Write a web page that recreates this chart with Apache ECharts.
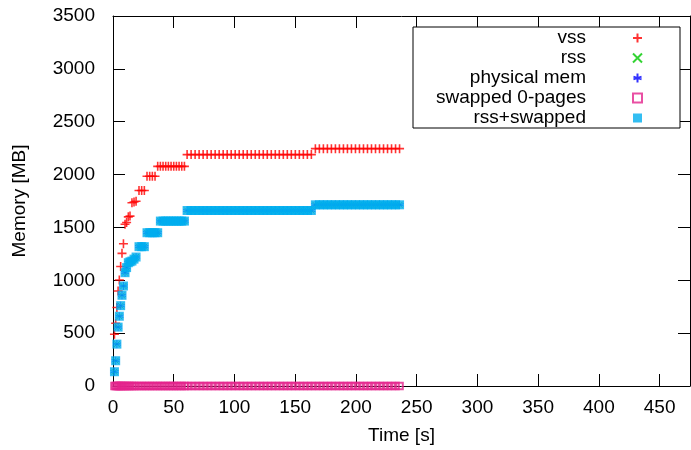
<!DOCTYPE html>
<html><head><meta charset="utf-8">
<script src="https://cdn.jsdelivr.net/npm/echarts@6/dist/echarts.min.js"></script>
<style>html,body{margin:0;padding:0;background:#fff}#c{width:691px;height:450px}</style>
</head><body><div id="c"></div><script>
// sample times [s]
const timeS = [
 1.2, 2.2, 3.2, 4.2, 5.2, 6.3, 7.4, 8.6, 9.9, 11.2,
 12.6, 14.0, 15.6, 17.3, 19.0, 21.4, 23.6, 25.8, 28.0, 30.2,
 32.4, 34.6, 36.8, 39.0, 41.2, 43.4, 45.6, 47.8, 50.0, 52.2,
 54.4, 56.6, 58.8, 61.0, 64.3, 67.6, 70.9, 74.2, 77.5, 80.8,
 84.1, 87.4, 90.7, 94.0, 97.3, 100.6, 103.9, 107.2, 110.5, 113.8,
 117.1, 120.4, 123.7, 127.0, 130.3, 133.6, 136.9, 140.2, 143.5, 146.8,
 150.1, 153.4, 156.7, 160.0, 163.3, 166.6, 169.9, 173.2, 176.5, 179.8,
 183.1, 186.4, 189.7, 193.0, 196.3, 199.6, 202.9, 206.2, 209.5, 212.8,
 216.1, 219.4, 222.7, 226.0, 229.3, 232.6, 235.9
];
// vss [MB]
const vssMB = [
 490, 594, 742, 899, 1003, 1130, 1255, 1346, 1530, 1547,
 1600, 1607, 1733, 1740, 1748, 1849, 1849, 1849, 1984, 1984,
 1984, 1984, 2078, 2078, 2078, 2078, 2078, 2078, 2078, 2078,
 2078, 2078, 2078, 2189, 2189, 2189, 2189, 2189, 2189, 2189,
 2189, 2189, 2189, 2189, 2189, 2189, 2189, 2189, 2189, 2189,
 2189, 2189, 2189, 2189, 2189, 2189, 2189, 2189, 2189, 2189,
 2189, 2189, 2189, 2189, 2189, 2245, 2245, 2245, 2245, 2245,
 2245, 2245, 2245, 2245, 2245, 2245, 2245, 2245, 2245, 2245,
 2245, 2245, 2245, 2245, 2245, 2245, 2245
];
// rss [MB]
const rssMB = [
 135, 239, 396, 557, 660, 760, 858, 946, 1072, 1120,
 1166, 1175, 1182, 1200, 1220, 1318, 1318, 1318, 1450, 1450,
 1450, 1450, 1450, 1560, 1560, 1560, 1560, 1560, 1560, 1560,
 1560, 1560, 1560, 1660, 1660, 1660, 1660, 1660, 1660, 1660,
 1660, 1660, 1660, 1660, 1660, 1660, 1660, 1660, 1660, 1660,
 1660, 1660, 1660, 1660, 1660, 1660, 1660, 1660, 1660, 1660,
 1660, 1660, 1660, 1660, 1660, 1714, 1714, 1714, 1714, 1714,
 1714, 1714, 1714, 1714, 1714, 1714, 1714, 1714, 1714, 1714,
 1714, 1714, 1714, 1714, 1714, 1714, 1714
];
// physical mem [MB]
const physMB = [
 135, 239, 396, 557, 660, 760, 858, 946, 1072, 1120,
 1166, 1175, 1182, 1200, 1220, 1318, 1318, 1318, 1450, 1450,
 1450, 1450, 1450, 1560, 1560, 1560, 1560, 1560, 1560, 1560,
 1560, 1560, 1560, 1660, 1660, 1660, 1660, 1660, 1660, 1660,
 1660, 1660, 1660, 1660, 1660, 1660, 1660, 1660, 1660, 1660,
 1660, 1660, 1660, 1660, 1660, 1660, 1660, 1660, 1660, 1660,
 1660, 1660, 1660, 1660, 1660, 1714, 1714, 1714, 1714, 1714,
 1714, 1714, 1714, 1714, 1714, 1714, 1714, 1714, 1714, 1714,
 1714, 1714, 1714, 1714, 1714, 1714, 1714
];
// swapped 0-pages [MB]
const swapped0MB = [
 0, 0, 0, 0, 0, 0, 0, 0, 0, 0,
 0, 0, 0, 0, 0, 0, 0, 0, 0, 0,
 0, 0, 0, 0, 0, 0, 0, 0, 0, 0,
 0, 0, 0, 0, 0, 0, 0, 0, 0, 0,
 0, 0, 0, 0, 0, 0, 0, 0, 0, 0,
 0, 0, 0, 0, 0, 0, 0, 0, 0, 0,
 0, 0, 0, 0, 0, 0, 0, 0, 0, 0,
 0, 0, 0, 0, 0, 0, 0, 0, 0, 0,
 0, 0, 0, 0, 0, 0, 0
];
const seriesNames = ['vss', 'rss', 'physical mem', 'swapped 0-pages', 'rss+swapped'];
const xTicks = [0, 50, 100, 150, 200, 250, 300, 350, 400, 450];
const yTicks = [0, 500, 1000, 1500, 2000, 2500, 3000, 3500];
const xMax = 475;

const FONT = 'Liberation Sans';
const pairs = (ys) => timeS.map((t, i) => [t, ys[i]]);
const rssSwappedMB = rssMB.map((v, i) => v + swapped0MB[i]);

const axisCommon = {
  type: 'value',
  axisLine: { show: true, onZero: false, lineStyle: { color: '#000', width: 1 } },
  axisTick: { show: true, inside: true, length: 12, lineStyle: { color: '#000', width: 1 } },
  splitLine: { show: false }
};
const labelStyle = { color: '#000', fontSize: 19, fontFamily: FONT };

const option = {
  animation: false,
  backgroundColor: '#fff',
  grid: { left: 113, right: 1, top: 16, bottom: 63 },
  xAxis: [
    Object.assign({}, axisCommon, {
      min: xTicks[0], max: xMax, interval: xTicks[1] - xTicks[0],
      position: 'bottom',
      axisLabel: Object.assign({ margin: 12, showMaxLabel: false,
        formatter: v => xTicks.includes(v) ? String(v) : '' }, labelStyle),
      name: 'Time [s]', nameLocation: 'middle', nameGap: 40,
      nameTextStyle: labelStyle
    }),
    Object.assign({}, axisCommon, {
      min: xTicks[0], max: xMax, interval: xTicks[1] - xTicks[0],
      position: 'top', axisLabel: { show: false }
    })
  ],
  yAxis: [
    Object.assign({}, axisCommon, {
      min: yTicks[0], max: yTicks[yTicks.length - 1], interval: yTicks[1] - yTicks[0],
      position: 'left',
      axisLabel: Object.assign({ margin: 18,
        formatter: v => yTicks.includes(v) ? String(v) : '' }, labelStyle),
      name: 'Memory [MB]', nameLocation: 'middle', nameGap: 84, nameRotate: 90,
      nameTextStyle: labelStyle
    }),
    Object.assign({}, axisCommon, {
      min: yTicks[0], max: yTicks[yTicks.length - 1], interval: yTicks[1] - yTicks[0],
      position: 'right', axisLabel: { show: false }
    })
  ],
  legend: {
    orient: 'vertical', right: 11, top: 27, align: 'right',
    itemWidth: 9, itemHeight: 9, itemGap: 0,
    padding: [1, 37, 0, 23],
    borderColor: '#000', borderWidth: 1, backgroundColor: '#fff',
    selectedMode: false,
    textStyle: { fontSize: 19, fontFamily: FONT, color: '#000', lineHeight: 20, padding: [0, 42, 0, 0] },
    data: seriesNames
  },
  series: [
    { name: seriesNames[0], type: 'scatter', data: pairs(vssMB),
      symbol: 'path://M0,5L10,5M5,0L5,10', symbolSize: 9,
      itemStyle: { color: 'rgba(0,0,0,0)', borderColor: '#ff0000', borderWidth: 1.6 } },
    { name: seriesNames[1], type: 'scatter', data: pairs(rssMB),
      symbol: 'path://M0,0L10,10M0,10L10,0', symbolSize: 6,
      itemStyle: { color: 'rgba(0,0,0,0)', borderColor: '#00c800', borderWidth: 1 } },
    { name: seriesNames[2], type: 'scatter', data: pairs(physMB),
      symbol: 'path://M5,0L5,10M0.5,3.5L9.5,6.5M0.5,6.5L9.5,3.5', symbolSize: 8,
      itemStyle: { color: 'rgba(0,0,0,0)', borderColor: '#0000ff', borderWidth: 0.9 } },
    { name: seriesNames[3], type: 'scatter', data: pairs(swapped0MB),
      symbol: 'rect', symbolSize: 6.5,
      itemStyle: { color: 'rgba(0,0,0,0)', borderColor: '#e4238c', borderWidth: 2 } },
    { name: seriesNames[4], type: 'scatter', data: pairs(rssSwappedMB),
      symbol: 'rect', symbolSize: 9,
      itemStyle: { color: '#00aeef' } }
  ]
};
const chart = echarts.init(document.getElementById('c'), null, { renderer: 'canvas' });
chart.setOption(option);
</script></body></html>
